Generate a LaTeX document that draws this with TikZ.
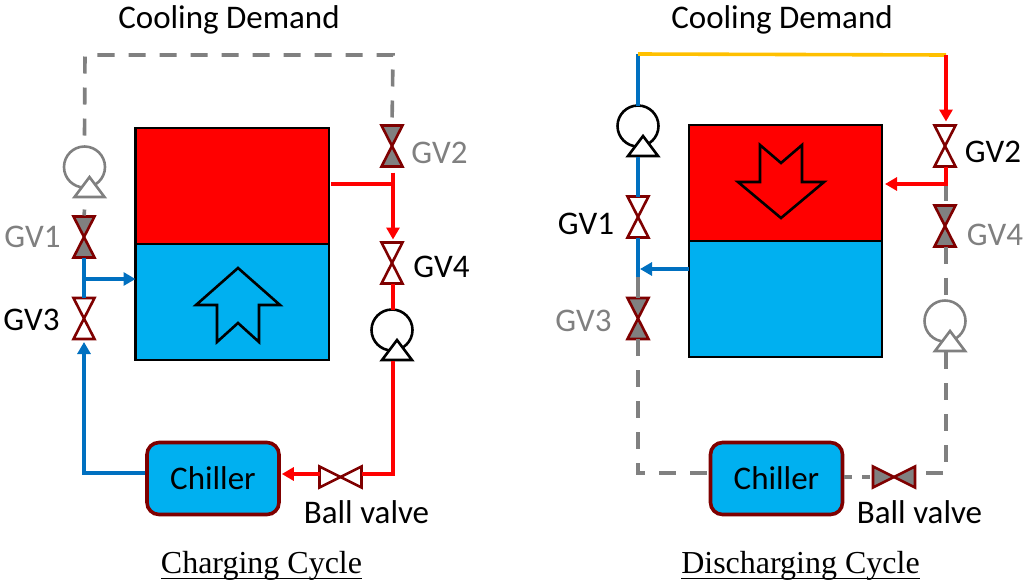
\documentclass[tikz,border=0pt]{standalone}
\usepackage{fontspec}
\setmainfont{Carlito}
\newfontfamily\capfont{Liberation Serif}
\usetikzlibrary{arrows.meta,calc}
\newcommand{\capline}[1]{\setbox0=\hbox{#1}\hbox{\copy0\hskip-\wd0\vrule width\wd0 height-4.5pt depth 6pt}}
\definecolor{hotred}{HTML}{FF0000}
\definecolor{coldblue}{HTML}{00B0F0}
\definecolor{pipeblue}{HTML}{0070C0}
\definecolor{darkred}{HTML}{7F0000}
\definecolor{midgray}{HTML}{808080}
\definecolor{amber}{HTML}{FFC000}
\tikzset{
  x=1pt,y=-1pt,
  tank/.style={draw=black,line width=2.6pt,inner sep=0pt,outer sep=0pt,anchor=north west},
  chillerbox/.style={draw=darkred,fill=coldblue,line width=3.6pt,rounded corners=12pt,inner sep=0pt,minimum width=132pt,minimum height=72pt,font=\fontsize{33}{34}\selectfont},
  lab/.style={font=\fontsize{33}{34}\selectfont,inner sep=0pt},
  grayt/.style={text=midgray},
  captxt/.style={font=\capfont\fontsize{32}{34}\selectfont,inner sep=0pt,anchor=base},
  box/.style={inner sep=0pt,outer sep=0pt},
  redpipe/.style={draw=hotred,line width=3.6pt},
  bluepipe/.style={draw=pipeblue,line width=3.6pt},
  graypipe/.style={draw=midgray,line width=3.6pt,dash pattern=on 17pt off 14pt},
  ambpipe/.style={draw=amber,line width=3.6pt},
  tip/.style={-{Triangle[length=12pt,width=13pt]}},
  bigarrow/.style={draw=black,line width=2.6pt,miter limit=10},
  valveline/.style={draw=darkred,line width=2.6pt,line join=miter},
  pumpline/.style={line width=2.6pt},
}
% \vvalve{name}{x}{y}{fill}  vertical gate valve
\newcommand{\vvalve}[4]{%
  \node[box,minimum width=21pt,minimum height=41pt] (#1) at (#2,#3) {};
  \draw[valveline,fill=#4] (#1.north west) -- (#1.north east) -- (#1.center) -- cycle;
  \draw[valveline,fill=#4] (#1.south west) -- (#1.south east) -- (#1.center) -- cycle;
}
% \hvalve{name}{x}{y}{fill}  horizontal ball valve
\newcommand{\hvalve}[4]{%
  \node[box,minimum width=42pt,minimum height=21pt] (#1) at (#2,#3) {};
  \draw[valveline,fill=#4] (#1.north west) -- (#1.south west) -- (#1.center) -- cycle;
  \draw[valveline,fill=#4] (#1.north east) -- (#1.south east) -- (#1.center) -- cycle;
}
% \pump{name}{x}{y}{colour}
\newcommand{\pump}[4]{%
  \node[draw=#4,pumpline,circle,box,minimum size=41pt] (#1) at (#2,#3) {};
  \draw[draw=#4,pumpline,fill=white,line join=miter] ($(#1.center)+(5,10)$) -- ($(#1.center)+(20,30)$) -- ($(#1.center)+(-10,30)$) -- cycle;
  \coordinate (#1b) at ($(#1.center)+(0,31)$);
}
\begin{document}
\begin{tikzpicture}
\useasboundingbox (0,0) rectangle (1030,582);
% ---------- LEFT: Charging ----------
\node[tank,fill=hotred,minimum width=193.5pt,minimum height=116pt] (hotL) at (135.5,128) {};
\node[tank,fill=coldblue,minimum width=193.5pt,minimum height=116pt] (coldL) at (135.5,244) {};
\draw[bigarrow] (238,268) -- (280,305) -- (259,305) -- (259,342) -- (238,323) -- (217,342) -- (217,305) -- (196,305) -- cycle;
\vvalve{gva}{84}{237}{midgray}
\vvalve{gvc}{84}{318.5}{white}
\vvalve{gvb}{392}{146}{midgray}
\vvalve{gvd}{392}{263}{white}
\pump{pl}{84.5}{167}{midgray}
\pump{pr}{392}{330}{black}
\node[chillerbox] (chL) at (213,478.5) {Chiller};
\hvalve{bvL}{340.5}{477}{white}
\coordinate (tl) at (85,55);
\coordinate (tr) at (393,55);
\draw[graypipe] (pl.north) ++(0,-11) -- (tl) -- (tr) -- (gvb.north);
\draw[graypipe,dash pattern=on 6pt off 20pt] (pl|-gva.north) ++(0,-7) -- (gva.north);
\draw[bluepipe] (gva.south) -- (gvc.north);
\coordinate (jb) at (85,279);
\draw[bluepipe,tip] (jb) -- (coldL.west|-jb);
\coordinate (bl) at (84,473);
\draw[bluepipe,tip] (chL.west|-bl) -- (bl) -- ($(gvc.south)+(0,3)$);
\coordinate (jr) at (393,184);
\draw[redpipe] ($(hotL.east|-jr)+(2,0)$) -- (jr);
\draw[redpipe,tip] ($(gvb.south)+(1,6)$) -- ($(gvd.north)+(1,-3)$);
\draw[redpipe] ($(gvd.south)+(1,0)$) -- ($(pr.north)+(1,0)$);
\coordinate (br) at (393,474);
\draw[redpipe] ($(prb)+(1,0)$) -- (br) -- (bvL.east|-br);
\draw[redpipe,tip] (bvL.west|-br) -- ($(chL.east|-br)+(1,0)$);
\node[lab] (cdL) at (229,20) {Cooling Demand};
\node[lab,grayt] (l2) at (439.5,153) {GV2};
\node[lab,grayt] (l1) at (32.5,237) {GV1};
\node[lab] (l4) at (441.5,267) {GV4};
\node[lab] (l3) at (31.5,320) {GV3};
\node[lab] (bL) at (366.5,512) {Ball valve};
\node[captxt] (capL) at (261.5,573) {\capline{Charging Cycle}};
% ---------- RIGHT: Discharging ----------
\node[tank,fill=hotred,minimum width=193pt,minimum height=116pt] (hotR) at (689,125) {};
\node[tank,fill=coldblue,minimum width=193pt,minimum height=116pt] (coldR) at (689,241) {};
\draw[bigarrow] (781,218) -- (824,182) -- (802,182) -- (802,145) -- (781,163) -- (760,145) -- (760,182) -- (738,182) -- cycle;
\vvalve{rgva}{638}{217}{white}
\vvalve{rgvc}{638}{318.5}{midgray}
\vvalve{rgvb}{945}{146}{white}
\vvalve{rgvd}{945}{226}{midgray}
\pump{rpl}{638}{126}{black}
\pump{rpr}{945}{321}{midgray}
\node[chillerbox] (chR) at (776.5,478.5) {Chiller};
\hvalve{bvR}{894}{477}{midgray}
\coordinate (rtl) at (638,54);
\coordinate (rtr) at (946,55);
\draw[bluepipe] (rpl.north) -- (rtl);
\draw[ambpipe] (rtl) -- (rtr);
\draw[redpipe,tip] (rtr) -- ($(rgvb.north)+(1,-4)$);
\draw[bluepipe] (rplb) -- (rgva.north);
\coordinate (rjb) at (638,269);
\coordinate (rjg) at (638,277);
\draw[bluepipe] (rgva.south) -- (rjg);
\draw[bluepipe,tip] (coldR.west|-rjb) -- ($(rjb)+(2,0)$);
\draw[midgray,line width=3.6pt] (rjg) -- (rgvc.north);
\coordinate (rjr) at (946,184);
\draw[redpipe,tip] ($(rgvb.south)+(1,0)$) -- (rjr) -- ($(hotR.east|-rjr)+(3,0)$);
\draw[graypipe,dash pattern=on 15pt off 6pt] ($(rjr)+(0,2)$) -- ($(rgvd.north)+(1,0)$);
\draw[graypipe,dash pattern=on 17pt off 14pt] ($(rgvd.south)+(1,0)$) -- ($(rpr.north)+(1,0)$);
\coordinate (rbr) at (946,473);
\coordinate (rbl) at (638,473);
\draw[graypipe] ($(rprb)+(1,0)$) -- (rbr) -- (bvR.east|-rbr);
\draw[graypipe,dash pattern=on 8pt off 10pt] (chR.east|-bvR) -- (bvR.west);
\draw[graypipe] (rgvc.south) -- (rbl) -- (chR.west|-rbl);
\node[lab] (cdR) at (782,20) {Cooling Demand};
\node[lab] (r2) at (993,152) {GV2};
\node[lab] (r1) at (586,224) {GV1};
\node[lab,grayt] (r4) at (995,235) {GV4};
\node[lab,grayt] (r3) at (583.5,321) {GV3};
\node[lab] (bR) at (919.5,512) {Ball valve};
\node[captxt] (capR) at (800.5,573) {\capline{Discharging Cycle}};
\end{tikzpicture}
\end{document}
